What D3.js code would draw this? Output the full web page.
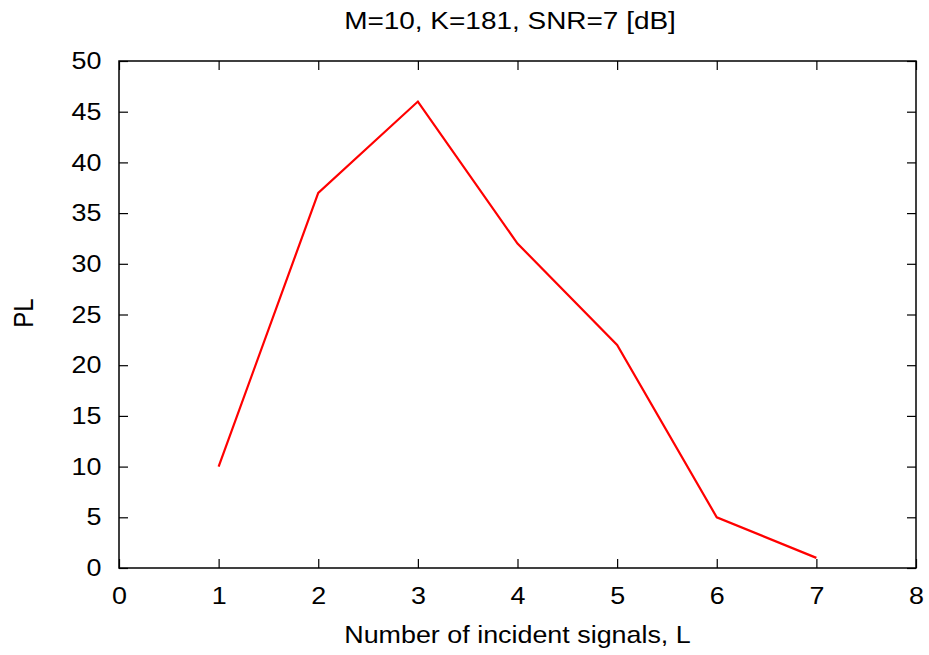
<!DOCTYPE html>
<html><head><meta charset="utf-8">
<script src="https://cdn.jsdelivr.net/npm/d3@7"></script>
<style>body{margin:0;background:#fff}svg text{font-family:"Liberation Sans",Arial,sans-serif;fill:#000}</style>
</head><body>
<svg id="c" width="929" height="655"></svg>
<script>
const xValues = [1, 2, 3, 4, 5, 6, 7];
const plValues = [10, 37, 46, 32, 22, 5, 1];
const xTicks = [0, 1, 2, 3, 4, 5, 6, 7, 8];
const yTicks = [0, 5, 10, 15, 20, 25, 30, 35, 40, 45, 50];
const titleText = "M=10, K=181, SNR=7 [dB]";
const xLabel = "Number of incident signals, L";
const yLabel = "PL";

(function () {
const svg = d3.select("#c");
const L = 119, R = 916, T = 61, B = 568;
const x = d3.scaleLinear().domain([0, 8]).range([L, R]);
const y = d3.scaleLinear().domain([0, 50]).range([B, T]);
const fs = 24;
const sx = 1.12;
const tickLen = 9;

function stretch(sel) {
  sel.each(function () {
    const t = d3.select(this);
    const tx = +t.attr("x") || 0, ty = +t.attr("y") || 0;
    t.attr("x", 0).attr("y", 0)
     .attr("transform", `translate(${tx},${ty}) scale(${sx},1)`);
  });
}

const gBottom = svg.append("g").attr("transform", `translate(0,${B})`)
  .call(d3.axisBottom(x).tickValues(xTicks).tickSizeInner(-tickLen).tickSizeOuter(0).tickPadding(19));
const gTop = svg.append("g").attr("transform", `translate(0,${T})`)
  .call(d3.axisTop(x).tickValues(xTicks).tickSizeInner(-tickLen).tickSizeOuter(0).tickFormat(""));
const gLeft = svg.append("g").attr("transform", `translate(${L},0)`)
  .call(d3.axisLeft(y).tickValues(yTicks).tickSizeInner(-tickLen).tickSizeOuter(0).tickPadding(17.5));
const gRight = svg.append("g").attr("transform", `translate(${R},0)`)
  .call(d3.axisRight(y).tickValues(yTicks).tickSizeInner(-tickLen).tickSizeOuter(0).tickFormat(""));
[gBottom, gTop, gLeft, gRight].forEach(g => {
  g.select(".domain").remove();
  g.selectAll(".tick line").attr("stroke", "#000").attr("stroke-width", 1.2);
  g.selectAll("text").style("font-size", fs + "px").style("font-family", '"Liberation Sans", Arial, sans-serif').attr("fill", "#000");
  stretch(g.selectAll("text"));
});

svg.append("rect").attr("x", L).attr("y", T).attr("width", R - L).attr("height", B - T)
  .attr("fill", "none").attr("stroke", "#000").attr("stroke-width", 1.5);

const line = d3.line().x((d, i) => x(xValues[i])).y(d => y(d));
svg.append("path").datum(plValues).attr("d", line)
  .attr("fill", "none").attr("stroke", "#ff0000").attr("stroke-width", 2.2).attr("stroke-linejoin", "miter");

svg.append("text").attr("transform", `translate(510,28.5) scale(1.165,1)`).attr("text-anchor", "middle")
  .style("font-size", fs + "px").text(titleText);
svg.append("text").attr("transform", `translate(${(L + R) / 2},642.5) scale(${sx},1)`).attr("text-anchor", "middle")
  .style("font-size", fs + "px").text(xLabel);
svg.append("text").attr("transform", `translate(33,313) rotate(-90) scale(1,${sx})`).attr("text-anchor", "middle")
  .style("font-size", fs + "px").text(yLabel);
})();
</script>
</body></html>
